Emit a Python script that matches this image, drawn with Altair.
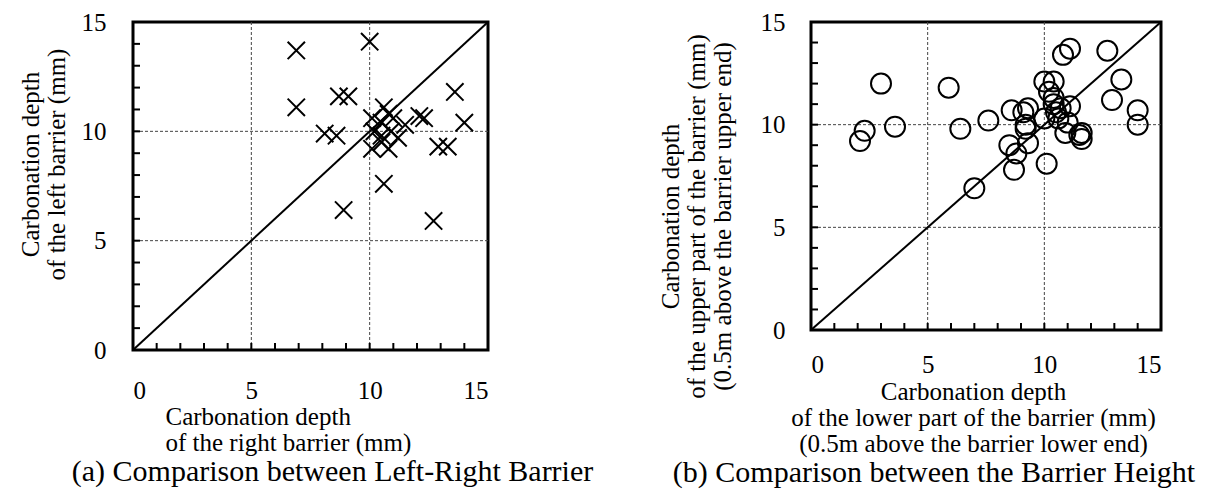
import altair as alt
import pandas as pd

FONT = "Liberation Serif"

# ---------------- data ----------------
# (a) left vs right barrier carbonation depth (mm)
a_right = [6.9, 10.0, 6.9, 8.7, 9.1, 8.1, 8.6, 8.9, 10.6, 12.7,
           10.6, 10.8, 10.1, 11.0, 11.5, 10.5, 10.2, 10.5, 10.9, 11.2,
           10.1, 10.8, 10.5, 12.1, 12.3, 12.9, 13.3, 13.6, 14.0]
a_left = [13.7, 14.1, 11.1, 11.6, 11.6, 9.9, 9.8, 6.4, 7.6, 5.9,
          11.1, 10.8, 10.6, 10.6, 10.3, 10.4, 10.0, 9.8, 10.0, 9.7,
          9.2, 9.2, 9.5, 10.7, 10.6, 9.3, 9.3, 11.8, 10.4]

# (b) lower vs upper part of barrier carbonation depth (mm)
b_lower = [3.0, 2.1, 2.3, 3.6, 5.9, 6.4, 7.6, 7.0, 8.6, 9.1,
           9.3, 9.2, 9.2, 9.3, 8.5, 8.8, 8.7, 10.0, 10.1, 10.0,
           10.4, 10.2, 10.4, 10.4, 10.7, 10.6, 11.1, 11.0, 10.9, 10.8,
           11.1, 11.6, 11.6, 12.7, 13.3, 12.9, 14.0, 14.0, 11.5, 10.5]
b_upper = [12.0, 9.2, 9.7, 9.9, 11.8, 9.8, 10.2, 6.9, 10.7, 10.6,
           10.8, 10.0, 9.8, 9.1, 9.0, 8.6, 7.8, 10.3, 8.1, 12.1,
           12.1, 11.6, 11.3, 11.0, 10.8, 10.3, 10.9, 10.1, 9.6, 13.4,
           13.7, 9.6, 9.3, 13.6, 12.2, 11.2, 10.7, 10.0, 9.5, 10.6]

axis_values = [0, 5, 10, 15]
grid_values = [5, 10]
minor_ticks = list(range(1, 15))
diag_values = [0, 15]

a_xtitle = ["Carbonation depth", "of the right barrier (mm)"]
a_ytitle = ["Carbonation depth", "of the left barrier (mm)"]
a_caption = "(a) Comparison between Left-Right Barrier"
b_xtitle = ["Carbonation depth", "of the lower part of the barrier (mm)",
            "(0.5m above the barrier lower end)"]
b_ytitle = ["Carbonation depth", "of the upper part of the barrier (mm)",
            "(0.5m above the barrier upper end)"]
b_caption = "(b) Comparison between the Barrier Height"

X_PATH = "M-1,-1L1,1M-1,1L1,-1"
TFS = 25   # axis title font size
TLH = 26   # axis title line height


def panel(xs, ys, shape, size, W, H, xtitle, xt, ytitle, yt, caption, cap_dx,
          cap_off, xlabpad, ylabpad):
    df = pd.DataFrame({"x": xs, "y": ys})
    sx = alt.Scale(domain=[0, 15], nice=False, zero=False)
    sy = alt.Scale(domain=[0, 15], nice=False, zero=False)
    xaxis = alt.Axis(values=axis_values, ticks=False, domain=False, grid=False,
                     labelFont=FONT, labelFontSize=25, labelColor="black",
                     labelPadding=xlabpad, labelAngle=0, format="d",
                     title=xtitle, titleFont=FONT, titleFontSize=TFS,
                     titleFontWeight="normal", titleColor="black",
                     titleX=xt[0], titleY=xt[1], titleAlign=xt[2],
                     titleBaseline="alphabetic", titleLineHeight=TLH)
    yaxis = alt.Axis(values=axis_values, ticks=False, domain=False, grid=False,
                     labelFont=FONT, labelFontSize=25, labelColor="black",
                     labelPadding=ylabpad, format="d",
                     title=ytitle, titleFont=FONT, titleFontSize=TFS,
                     titleFontWeight="normal", titleColor="black",
                     titleAngle=270, titleX=yt[0], titleY=yt[1],
                     titleAlign=yt[2], titleBaseline="alphabetic",
                     titleLineHeight=TLH)

    gdf = pd.DataFrame({"g": grid_values})
    tdf = pd.DataFrame({"t": minor_ticks})
    ddf = pd.DataFrame({"d": diag_values})

    gx = alt.Chart(gdf).mark_rule(color="#444", strokeDash=[3, 2], strokeWidth=1).encode(
        x=alt.X("g:Q", scale=sx, axis=xaxis))
    gy = alt.Chart(gdf).mark_rule(color="#444", strokeDash=[3, 2], strokeWidth=1).encode(
        y=alt.Y("g:Q", scale=sy, axis=yaxis))
    tx = alt.Chart(tdf).mark_rule(color="black", strokeWidth=2).encode(
        x=alt.X("t:Q", scale=sx, axis=xaxis), y=alt.value(H), y2=alt.value(H - 7))
    ty = alt.Chart(tdf).mark_rule(color="black", strokeWidth=2).encode(
        y=alt.Y("t:Q", scale=sy, axis=yaxis), x=alt.value(0), x2=alt.value(7))
    diag = alt.Chart(ddf).mark_line(color="black", strokeWidth=2).encode(
        x=alt.X("d:Q", scale=sx, axis=xaxis), y=alt.Y("d:Q", scale=sy, axis=yaxis))
    pts = alt.Chart(df).mark_point(shape=shape, filled=False, color="black",
                                   strokeWidth=2, size=size, opacity=1).encode(
        x=alt.X("x:Q", scale=sx, axis=xaxis),
        y=alt.Y("y:Q", scale=sy, axis=yaxis))

    return alt.layer(gx, gy, diag, tx, ty, pts).properties(
        width=W, height=H,
        title=alt.TitleParams(caption, orient="bottom", anchor="middle",
                              frame="group", font=FONT, fontSize=30,
                              fontWeight="normal", color="black", dx=cap_dx,
                              offset=cap_off))


pa = panel(a_right, a_left, X_PATH, 300, 355, 328,
           a_xtitle, (32, 74, "left"),
           a_ytitle, (-95, 142, "center"),
           a_caption, 22, 2, 28, 27)
pb = panel(b_lower, b_upper, "circle", 400, 350, 308,
           b_xtitle, (162, 69, "center"),
           b_ytitle, (-133, 194, "center"),
           b_caption, -52, 2, 22, 26)

chart = alt.hconcat(pa, pb, spacing=323, bounds="flush").properties(
    padding={"left": 8, "top": 0, "right": 0, "bottom": 0},
    background="white",
).configure_view(stroke="black", strokeWidth=3)

chart.save("out.html", embed_options={"renderer": "svg", "actions": False})
